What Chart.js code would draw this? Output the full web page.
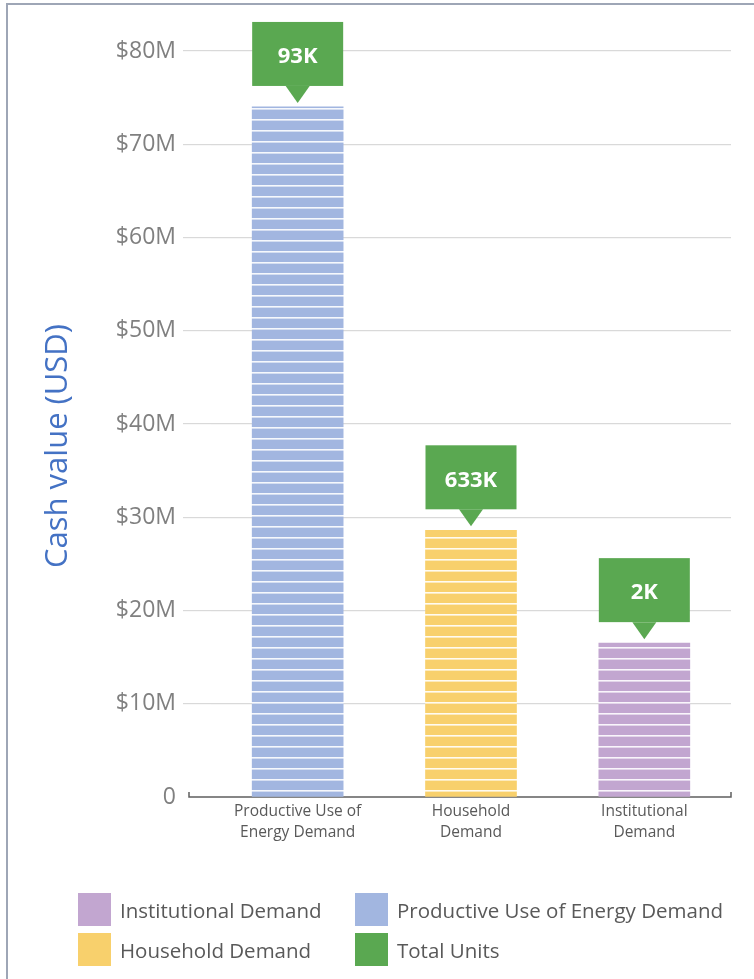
<!DOCTYPE html>
<html>
<head>
<meta charset="utf-8">
<script src="https://cdn.jsdelivr.net/npm/chart.js@4/dist/chart.umd.min.js"></script>
<style>
  html, body { margin: 0; padding: 0; background: #fff; }
  #wrap { position: relative; width: 754px; height: 979px; overflow: hidden; }
  #frameTop { position: absolute; left: 6px; top: 3px; width: 760px; height: 2px; background: #9ea6b6; }
  #frameLeft { position: absolute; left: 6px; top: 3px; width: 2px; height: 990px; background: #9ea6b6; }
  canvas { position: absolute; left: 0; top: 0; }
  .legend { position: absolute; font-family: "Open Sans", sans-serif; font-size: 20.5px; color: #595959; }
  .item { position: absolute; display: flex; align-items: center; white-space: nowrap; }
  .swatch { width: 33px; height: 33px; margin-right: 9px; }
</style>
</head>
<body>
<div id="wrap">
  <canvas id="c" width="754" height="979"></canvas>
  <div id="frameTop"></div>
  <div id="frameLeft"></div>
  <div class="legend" id="legend"></div>
</div>
<script>
// Categories, cash values (USD) and unit totals shown in the callouts
const categories = [['Productive Use of', 'Energy Demand'], ['Household', 'Demand'], ['Institutional', 'Demand']];
const cashValues = [74000000, 28600000, 16500000];
const totalUnits = ['93K', '633K', '2K'];
const barColors = ['#a2b6e0', '#f8d06c', '#c2a6d0'];
const legendNames = ['Institutional Demand', 'Productive Use of Energy Demand', 'Household Demand', 'Total Units'];
const legendColors = ['#c2a6d0', '#a2b6e0', '#f8d06c', '#5aa851'];
const calloutColor = '#5aa851';
const axisTitle = 'Cash value (USD)';

// Horizontal white pin-stripes over each bar colour
function stripes(color) {
  const p = document.createElement('canvas');
  p.width = 8; p.height = 11;
  const g = p.getContext('2d');
  g.fillStyle = color; g.fillRect(0, 0, 8, 11);
  g.fillStyle = 'rgba(255,255,255,0.9)'; g.fillRect(0, 9, 8, 1.6);
  return g.createPattern(p, 'repeat');
}

// Green value tags with a pointer above each bar
const callouts = {
  id: 'callouts',
  afterDatasetsDraw(chart) {
    const ctx = chart.ctx;
    chart.getDatasetMeta(0).data.forEach((bar, i) => {
      const w = bar.width, x = bar.x, top = bar.y;
      const boxBottom = top - 21, boxTop = boxBottom - 64;
      ctx.save();
      ctx.fillStyle = calloutColor;
      ctx.fillRect(x - w / 2, boxTop, w, boxBottom - boxTop);
      ctx.beginPath();
      ctx.moveTo(x - 12, boxBottom);
      ctx.lineTo(x + 12, boxBottom);
      ctx.lineTo(x, top - 4);
      ctx.closePath();
      ctx.fill();
      ctx.fillStyle = '#ffffff';
      ctx.font = 'bold 22px "Open Sans", sans-serif';
      ctx.textAlign = 'center';
      ctx.textBaseline = 'middle';
      ctx.fillText(totalUnits[i], x, (boxTop + boxBottom) / 2 + 3);
      ctx.restore();
    });
  }
};

// Dark baseline with small upturned ends, plus the rotated value-axis title
const baseline = {
  id: 'baseline',
  beforeDatasetsDraw(chart) {
    const ctx = chart.ctx, y = chart.scales.y.getPixelForValue(0);
    const l = 189, r = chart.chartArea.right;
    ctx.save();
    ctx.strokeStyle = '#5f5f5f';
    ctx.lineWidth = 1.5;
    ctx.beginPath();
    ctx.moveTo(l, y - 5); ctx.lineTo(l, y); ctx.lineTo(r, y); ctx.lineTo(r, y - 5);
    ctx.stroke();
    ctx.translate(58, 446);
    ctx.rotate(-Math.PI / 2);
    ctx.fillStyle = '#4472c4';
    ctx.font = '31px "Open Sans", sans-serif';
    ctx.textAlign = 'center';
    ctx.textBaseline = 'middle';
    ctx.fillText(axisTitle, 0, 0);
    ctx.restore();
  }
};

new Chart(document.getElementById('c'), {
  type: 'bar',
  data: {
    labels: categories,
    datasets: [{
      data: cashValues,
      backgroundColor: barColors.map(stripes),
      borderWidth: 0,
      barThickness: 91
    }]
  },
  options: {
    responsive: false,
    animation: false,
    layout: { padding: { top: 51, right: 23, left: 0, bottom: 109 } },
    plugins: { legend: { display: false }, tooltip: { enabled: false } },
    scales: {
      x: {
        offset: true,
        grid: { display: false, drawTicks: false },
        border: { display: false },
        ticks: { color: '#595959', padding: 5, font: { family: 'Open Sans', size: 15.5, lineHeight: 1.3 } },
        afterFit(s) { s.height = 73; }
      },
      y: {
        min: 0, max: 80000000,
        ticks: {
          stepSize: 10000000,
          padding: 7,
          color: '#808080',
          font: { family: 'Open Sans', size: 23 },
          callback: v => v === 0 ? '0' : '$' + (v / 1000000) + 'M'
        },
        grid: {
          color: ctx => ctx.tick && ctx.tick.value === 0 ? 'rgba(0,0,0,0)' : '#d9d9d9',
          lineWidth: 1.2,
          tickLength: 28
        },
        border: { display: false },
        afterFit(s) { s.width = 211; }
      }
    }
  },
  plugins: [baseline, callouts]
});

// Legend laid out in two columns beneath the chart
const legend = document.getElementById('legend');
const spots = [[78, 893], [355, 893], [78, 933], [355, 933]];
legendNames.forEach((name, i) => {
  const d = document.createElement('div');
  d.className = 'item';
  d.style.left = spots[i][0] + 'px';
  d.style.top = spots[i][1] + 'px';
  d.innerHTML = '<div class="swatch" style="background:' + legendColors[i] + '"></div><span>' + name + '</span>';
  legend.appendChild(d);
});
</script>
</body>
</html>
